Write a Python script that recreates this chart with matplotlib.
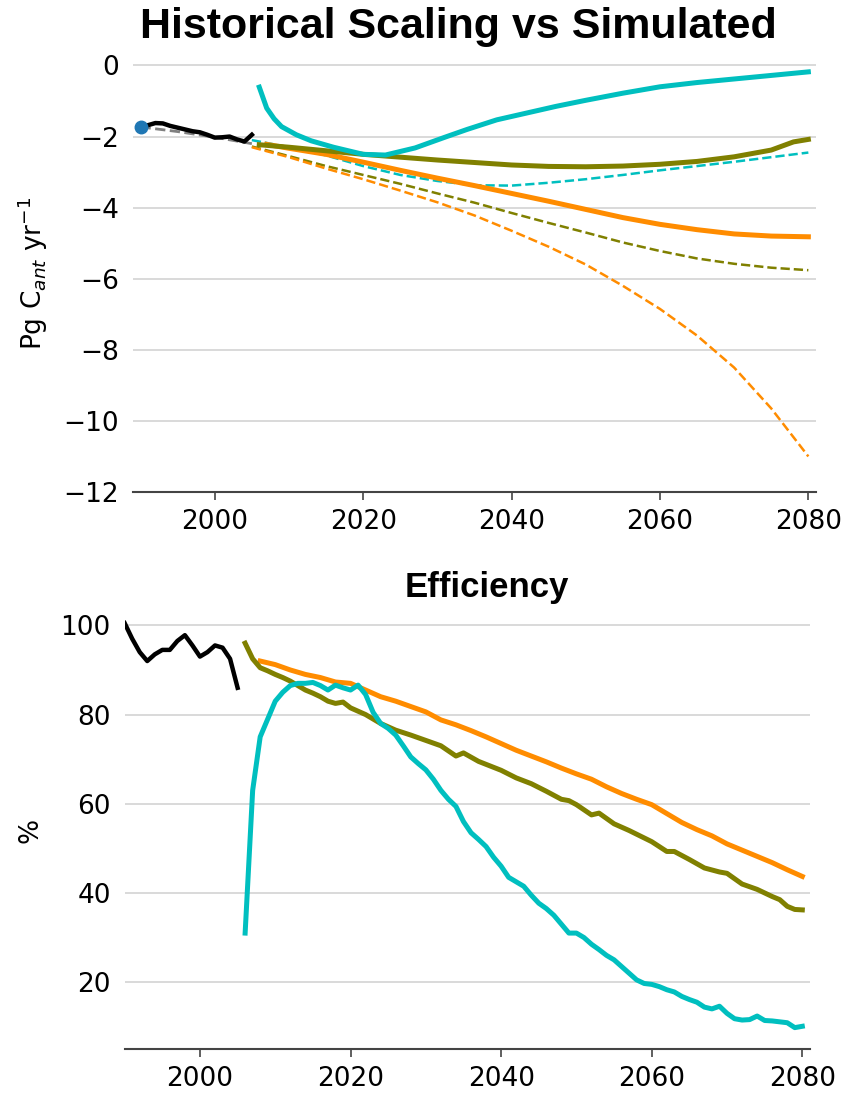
import numpy as np
import matplotlib
matplotlib.use('Agg')
import matplotlib.pyplot as plt

# ---- data ----
# historical (observed) uptake and its scaling fit
hist_years = [1990, 1991, 1992, 1993, 1994, 1995, 1996, 1997, 1998, 1999,
              2000, 2001, 2002, 2003, 2004, 2005]
hist_flux = [-1.72, -1.68, -1.62, -1.63, -1.70, -1.75, -1.80, -1.85, -1.88, -1.95,
             -2.03, -2.02, -2.00, -2.08, -2.14, -1.95]
hist_fit_years = [1990, 1995, 2000, 2005]
hist_fit = [-1.73, -1.86, -2.02, -2.20]
hist_eff = [100.5, 97.0, 94.0, 92.0, 93.5, 94.5, 94.5, 96.5, 97.8, 95.5,
            93.0, 94.0, 95.5, 95.0, 92.5, 86.0]

# simulated uptake (solid) and scaled projection (dashed)
cyan_years = [2006, 2007, 2008, 2009, 2011, 2013, 2016, 2020, 2023, 2025, 2027, 2029,
              2031, 2034, 2038, 2042, 2046, 2050, 2055, 2060, 2065, 2070, 2075, 2080]
cyan_flux = [-0.61, -1.20, -1.50, -1.72, -1.95, -2.12, -2.30, -2.50, -2.52, -2.42, -2.32, -2.17,
             -2.02, -1.80, -1.53, -1.34, -1.15, -0.98, -0.78, -0.60, -0.48, -0.38, -0.28, -0.18]
olive_years = [2006, 2010, 2015, 2020, 2025, 2030, 2035, 2040, 2045, 2050, 2055, 2060,
               2065, 2070, 2075, 2078, 2080]
olive_flux = [-2.23, -2.30, -2.40, -2.50, -2.58, -2.66, -2.73, -2.80, -2.84, -2.85, -2.83,
              -2.78, -2.70, -2.57, -2.38, -2.15, -2.08]
orange_years = [2007, 2010, 2015, 2020, 2025, 2030, 2035, 2040, 2045, 2050, 2055, 2060,
                2065, 2070, 2075, 2080]
orange_flux = [-2.22, -2.33, -2.50, -2.72, -2.95, -3.17, -3.38, -3.60, -3.82, -4.05, -4.28,
               -4.47, -4.62, -4.74, -4.80, -4.82]

fit_years = [2005, 2010, 2015, 2020, 2025, 2030, 2035, 2040, 2045, 2050, 2055, 2060,
             2065, 2070, 2075, 2080]
cyan_fit = [-2.10, -2.30, -2.53, -2.83, -3.08, -3.25, -3.37, -3.38, -3.30, -3.20, -3.08,
            -2.95, -2.83, -2.71, -2.58, -2.45]
olive_fit = [-2.28, -2.55, -2.83, -3.08, -3.33, -3.60, -3.86, -4.15, -4.43, -4.70, -4.98,
             -5.22, -5.43, -5.58, -5.69, -5.76]
orange_fit = [-2.30, -2.58, -2.90, -3.20, -3.52, -3.85, -4.22, -4.65, -5.10, -5.60, -6.20,
              -6.85, -7.60, -8.50, -9.65, -11.0]

# efficiency (%)
cyan_eff_years = list(range(2006, 2081))
cyan_eff = [31, 63, 75, 79, 83, 85, 86.5, 87, 87, 87.2, 86.5, 85.5, 86.6, 86, 85.5, 86.6,
            84.5, 80.5, 78, 76.9, 75.4, 73, 70.5, 69, 67.6, 65.5, 63, 61, 59.4, 56, 53.5,
            52, 50.4, 48, 46, 43.5, 42.5, 41.5, 39.5, 37.7, 36.5, 35, 33, 31, 31, 30, 28.5,
            27.3, 26, 25, 23.5, 22, 20.5, 19.7, 19.5, 19, 18.3, 17.8, 16.8, 16.1, 15.5,
            14.4, 14, 14.6, 13, 11.8, 11.5, 11.6, 12.4, 11.4, 11.3, 11.1, 10.9, 9.8, 10.1]
olive_eff_years = [2006, 2007, 2008, 2009, 2010, 2011, 2012, 2013, 2014, 2015, 2016, 2017,
                   2018, 2019, 2020, 2022, 2024, 2026, 2028, 2030, 2032, 2034, 2035, 2037,
                   2040, 2042, 2044, 2046, 2048, 2049, 2050, 2052, 2053, 2055, 2057, 2060,
                   2062, 2063, 2065, 2067, 2069, 2070, 2072, 2074, 2076, 2077, 2078, 2079, 2080]
olive_eff = [96, 92.5, 90.5, 89.8, 89, 88.3, 87.5, 86.5, 85.5, 84.8, 84, 83, 82.5, 82.8,
             81.5, 80, 78, 76.5, 75.4, 74.2, 73, 70.7, 71.4, 69.5, 67.5, 65.8, 64.5, 62.8,
             61, 60.7, 59.8, 57.5, 57.9, 55.5, 54, 51.5, 49.3, 49.3, 47.5, 45.6, 44.7, 44.4,
             42, 40.8, 39.2, 38.5, 37, 36.3, 36.2]
orange_eff_years = list(range(2008, 2081, 2))
orange_eff = [92, 91.2, 90, 89, 88.3, 87.3, 87, 85.5, 84, 83, 81.8, 80.6, 78.8, 77.7, 76.4,
              75, 73.5, 72, 70.7, 69.4, 68, 66.7, 65.5, 63.8, 62.3, 61, 59.8, 57.8, 55.8,
              54.2, 52.8, 51, 49.6, 48.2, 46.8, 45.2, 43.7]

c_cyan = '#00bfbf'
c_olive = '#808000'
c_orange = '#ff8c00'
LW = 3.6


def style(ax):
    for s in ['top', 'right', 'left']:
        ax.spines[s].set_visible(False)
    ax.spines['bottom'].set_color('#444444')
    ax.spines['bottom'].set_linewidth(1.5)
    ax.yaxis.grid(True, color='#d3d3d3', linewidth=1.2)
    ax.set_axisbelow(True)
    ax.tick_params(axis='y', length=0, labelsize=19, pad=10)
    ax.tick_params(axis='x', length=6, width=1.2, color='#444444', labelsize=19, pad=6)
    ax.set_xticks([2000, 2020, 2040, 2060, 2080])


fig = plt.figure(figsize=(8.48, 10.94), dpi=100)
ax1 = fig.add_axes([0.157, 0.5503, 0.805, 0.3996])
ax2 = fig.add_axes([0.147, 0.0411, 0.808, 0.3995])

# top panel
ax1.plot(hist_fit_years, hist_fit, '--', color='gray', lw=2)
ax1.plot(hist_years, hist_flux, color='black', lw=3.2)
ax1.plot(hist_years[0], hist_flux[0], 'o', color='#1f77b4', ms=9)
ax1.plot(fit_years, cyan_fit, '--', color=c_cyan, lw=1.8)
ax1.plot(fit_years, olive_fit, '--', color=c_olive, lw=1.8)
ax1.plot(fit_years, orange_fit, '--', color=c_orange, lw=1.8)
ax1.plot(orange_years, orange_flux, color=c_orange, lw=LW)
ax1.plot(olive_years, olive_flux, color=c_olive, lw=LW)
ax1.plot(cyan_years, cyan_flux, color=c_cyan, lw=LW)
style(ax1)
ax1.set_xlim(1989, 2081)
ax1.set_ylim(-12, 0.3)
ax1.set_yticks([0, -2, -4, -6, -8, -10, -12])
ax1.set_ylabel('Pg C$_{ant}$ yr$^{-1}$', fontsize=19, labelpad=10)
ax1.set_title('Historical Scaling vs Simulated', fontsize=31, fontweight='bold',
              family='Liberation Sans', x=0.476, pad=12)

# bottom panel
ax2.plot(hist_years, hist_eff, color='black', lw=3.2)
ax2.plot(orange_eff_years, orange_eff, color=c_orange, lw=LW)
ax2.plot(olive_eff_years, olive_eff, color=c_olive, lw=LW)
ax2.plot(cyan_eff_years, cyan_eff, color=c_cyan, lw=LW)
style(ax2)
ax2.set_xlim(1990, 2081)
ax2.set_ylim(5, 103)
ax2.set_yticks([20, 40, 60, 80, 100])
ax2.set_ylabel('%', fontsize=19, labelpad=12)
ax2.set_title('Efficiency', fontsize=25, fontweight='bold',
              family='Liberation Sans', x=0.528, pad=11)

fig.savefig('out.png', dpi=100)
